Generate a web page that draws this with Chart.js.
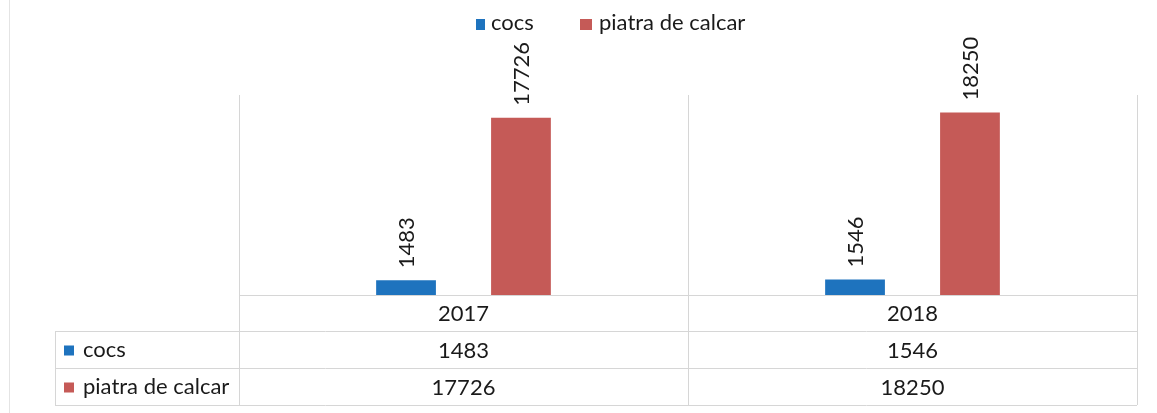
<!DOCTYPE html>
<html><head><meta charset="utf-8">
<script src="https://cdn.jsdelivr.net/npm/chart.js@4/dist/chart.umd.min.js"></script>
<style>html,body{margin:0;padding:0;background:#fff}#wrap{width:1157px;height:413px}</style>
</head><body><div id="wrap"><canvas id="c" width="1157" height="413"></canvas></div>
<script>
const categories = ['2017', '2018'];
const cocsValues = [1483, 1546];
const piatraValues = [17726, 18250];
const seriesNames = ['cocs', 'piatra de calcar'];
const seriesColors = ['#1E73BE', '#C55A57'];

const FONT = 'Lato, "Liberation Sans", sans-serif';
const gridColor = '#d6d6d6';
const textColor = '#1a1a1a';

const tablePlugin = {
  id: 'tablePlugin',
  afterDraw(chart) {
    const ctx = chart.ctx;
    const xs = chart.scales.x;
    const area = chart.chartArea;
    const rowH = [area.bottom, 331, 368, 405];
    const tableLeft = 55;
    ctx.save();
    ctx.strokeStyle = gridColor;
    ctx.lineWidth = 1;
    ctx.beginPath();
    for (let i = 1; i < rowH.length; i++) {
      ctx.moveTo(tableLeft, rowH[i] + 0.5); ctx.lineTo(area.right, rowH[i] + 0.5);
    }
    ctx.moveTo(tableLeft + 0.5, rowH[1]); ctx.lineTo(tableLeft + 0.5, rowH[3]);
    const bounds = [area.left];
    for (let i = 0; i < categories.length; i++) {
      bounds.push((xs.getPixelForValue(i) + (i + 1 < categories.length ? xs.getPixelForValue(i + 1) : 2 * xs.getPixelForValue(i) - xs.getPixelForValue(i - 1))) / 2);
    }
    bounds[bounds.length - 1] = area.right;
    bounds.forEach(b => { ctx.moveTo(Math.round(b) + 0.5, area.bottom); ctx.lineTo(Math.round(b) + 0.5, rowH[3]); });
    ctx.stroke();
    ctx.strokeStyle = '#e4e4e4';
    ctx.beginPath(); ctx.moveTo(9.5, 0); ctx.lineTo(9.5, 413); ctx.stroke();

    ctx.fillStyle = textColor;
    ctx.font = '22px ' + FONT;
    ctx.textAlign = 'center';
    ctx.textBaseline = 'middle';
    const rows = [categories, cocsValues, piatraValues];
    for (let r = 0; r < 3; r++) {
      const cy = (rowH[r] + rowH[r + 1]) / 2 + 1;
      for (let i = 0; i < categories.length; i++) {
        ctx.fillText(String(rows[r][i]), xs.getPixelForValue(i), cy);
      }
    }
    ctx.textAlign = 'left';
    for (let s = 0; s < 2; s++) {
      const cy = (rowH[s + 1] + rowH[s + 2]) / 2 + 1;
      ctx.fillStyle = seriesColors[s];
      ctx.fillRect(64, cy - 5, 10, 10);
      ctx.fillStyle = textColor;
      ctx.fillText(seriesNames[s], 83, cy - 1);
    }
    const legY = 24;
    ctx.fillStyle = seriesColors[0]; ctx.fillRect(476, legY - 5, 9, 11);
    ctx.fillStyle = textColor; ctx.fillText(seriesNames[0], 491, legY - 1);
    ctx.fillStyle = seriesColors[1]; ctx.fillRect(580, legY - 5, 12, 11);
    ctx.fillStyle = textColor; ctx.fillText(seriesNames[1], 599, legY - 1);

    chart.data.datasets.forEach((ds, di) => {
      const meta = chart.getDatasetMeta(di);
      meta.data.forEach((bar, i) => {
        ctx.save();
        ctx.translate(bar.x, bar.y - 12);
        ctx.rotate(-Math.PI / 2);
        ctx.textAlign = 'left';
        ctx.textBaseline = 'middle';
        ctx.fillStyle = textColor;
        ctx.fillText(String(ds.data[i]), 0, 1);
        ctx.restore();
      });
    });
    ctx.restore();
  }
};

new Chart(document.getElementById('c'), {
  type: 'bar',
  data: {
    labels: categories,
    datasets: [
      { label: seriesNames[0], data: cocsValues, backgroundColor: seriesColors[0], categoryPercentage: 0.512, barPercentage: 0.52 },
      { label: seriesNames[1], data: piatraValues, backgroundColor: seriesColors[1], categoryPercentage: 0.512, barPercentage: 0.52 }
    ]
  },
  options: {
    responsive: false,
    animation: false,
    layout: { padding: { left: 239, right: 20, top: 95, bottom: 118 } },
    plugins: { legend: { display: false }, tooltip: { enabled: false } },
    scales: {
      x: {
        ticks: { display: false },
        grid: { color: gridColor, drawTicks: false, offset: true },
        border: { color: gridColor }
      },
      y: { display: false, min: 0, max: 20000 }
    }
  },
  plugins: [tablePlugin]
});
</script>
</body></html>
